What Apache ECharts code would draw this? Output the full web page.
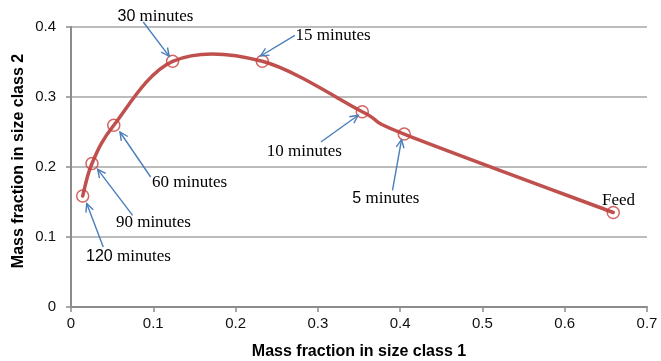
<!DOCTYPE html>
<html>
<head>
<meta charset="utf-8">
<script src="https://cdn.jsdelivr.net/npm/echarts@6/dist/echarts.min.js"></script>
<style>
  html, body { margin: 0; padding: 0; background: #fff; }
  #chart { width: 661px; height: 361px; }
</style>
</head>
<body>
<div id="chart"></div>
<script>
// measured points, feed first then by grinding time
const times = ['Feed', '5', '10', '15', '30', '60', '90', '120']
const class1 = [0.659, 0.405, 0.354, 0.2325, 0.1235, 0.052, 0.0255, 0.0142]
const class2 = [0.135, 0.247, 0.279, 0.351, 0.351, 0.2596, 0.205, 0.1586]

const xTickLabels = ['0', '0.1', '0.2', '0.3', '0.4', '0.5', '0.6', '0.7']
const yTickLabels = ['0', '0.1', '0.2', '0.3', '0.4']

// annotation text anchors (centre), same order as times
const noteX = [0.6654, 0.3826, 0.2836, 0.3186, 0.1026, 0.1442, 0.1002, 0.0698]
const noteY = [0.1524, 0.1549, 0.2224, 0.3881, 0.4153, 0.1777, 0.1200, 0.0714]
const sansNumber = [false, true, false, false, true, false, false, true]

// arrows: tail -> tip (no arrow for Feed)
const arrowFromX = [0.3907, 0.3037, 0.2721, 0.0878, 0.0968, 0.0749, 0.0392]
const arrowFromY = [0.1667, 0.2357, 0.3881, 0.4071, 0.1857, 0.1310, 0.0857]
const arrowToX = [0.4017, 0.3490, 0.2304, 0.1194, 0.0595, 0.0324, 0.0191]
const arrowToY = [0.2391, 0.2739, 0.3586, 0.3581, 0.2500, 0.1967, 0.1477]

const red = '#C0504D'
const blue = '#4A7EBB'

let chart = echarts.init(document.getElementById('chart'), null, { renderer: 'canvas' })

let pointData = class1.map((x, i) => [x, class2[i]])
let noteData = noteX.map((x, i) => [x, noteY[i], i])
let arrowData = arrowFromX.map((x, i) => [x, arrowFromY[i], arrowToX[i], arrowToY[i]])

// smoothed line like the spreadsheet one (catmull-rom through the points)
function renderCurve(params, api) {
  if (params.dataIndex !== 0) return null
  const pts = class1.map((x, i) => api.coord([x, class2[i]]))
  const n = pts.length
  let d = 'M' + pts[0][0] + ' ' + pts[0][1]
  for (let i = 0; i < n - 1; i++) {
    const p0 = pts[Math.max(i - 1, 0)]
    const p1 = pts[i]
    const p2 = pts[i + 1]
    const p3 = pts[Math.min(i + 2, n - 1)]
    const c1 = [p1[0] + (p2[0] - p0[0]) / 6, p1[1] + (p2[1] - p0[1]) / 6]
    const c2 = [p2[0] - (p3[0] - p1[0]) / 6, p2[1] - (p3[1] - p1[1]) / 6]
    d += ' C' + c1[0] + ' ' + c1[1] + ' ' + c2[0] + ' ' + c2[1] + ' ' + p2[0] + ' ' + p2[1]
  }
  return {
    type: 'path',
    shape: { pathData: d },
    style: { stroke: red, lineWidth: 3.5, fill: null, lineCap: 'round', lineJoin: 'round' }
  }
}

function renderArrow(params, api) {
  const p1 = api.coord([api.value(0), api.value(1)])
  const p2 = api.coord([api.value(2), api.value(3)])
  const ang = Math.atan2(p2[1] - p1[1], p2[0] - p1[0])
  const len = 9
  const spread = 0.45
  const h1 = [p2[0] - len * Math.cos(ang - spread), p2[1] - len * Math.sin(ang - spread)]
  const h2 = [p2[0] - len * Math.cos(ang + spread), p2[1] - len * Math.sin(ang + spread)]
  const style = { stroke: blue, lineWidth: 1.4, fill: null }
  return {
    type: 'group',
    children: [
      { type: 'line', shape: { x1: p1[0], y1: p1[1], x2: p2[0], y2: p2[1] }, style: style },
      { type: 'polyline', shape: { points: [h1, p2, h2] }, style: style }
    ]
  }
}

function renderNote(params, api) {
  const p = api.coord([api.value(0), api.value(1)])
  const i = api.value(2)
  const num = times[i]
  let text
  if (num === 'Feed') text = '{u|Feed}'
  else text = (sansNumber[i] ? '{s|' + num + '}' : '{u|' + num + '}') + '{u| minutes}'
  return {
    type: 'text',
    x: p[0],
    y: p[1],
    style: {
      text: text,
      align: 'center',
      verticalAlign: 'middle',
      rich: {
        s: { fontFamily: 'Liberation Sans, Arial, sans-serif', fontSize: 16, fill: '#000' },
        u: { fontFamily: 'Liberation Serif, Times New Roman, serif', fontSize: 17, fill: '#000' }
      }
    }
  }
}

chart.setOption({
  animation: false,
  grid: { left: 71, right: 14, top: 27, bottom: 54 },
  xAxis: {
    type: 'value',
    min: 0,
    max: 0.7,
    interval: 0.1,
    axisLine: { show: true, lineStyle: { color: '#8C8C8C', width: 2 } },
    axisTick: { show: true, length: 5, lineStyle: { color: '#8C8C8C', width: 1.5 } },
    axisLabel: {
      margin: 9,
      color: '#111',
      fontFamily: 'Liberation Sans, Arial, sans-serif',
      fontSize: 15,
      formatter: (v, i) => xTickLabels[i]
    },
    splitLine: { show: false }
  },
  yAxis: {
    type: 'value',
    min: 0,
    max: 0.4,
    interval: 0.1,
    axisLine: { show: true, lineStyle: { color: '#8C8C8C', width: 2 } },
    axisTick: { show: true, length: 5, lineStyle: { color: '#8C8C8C', width: 1.5 } },
    axisLabel: {
      margin: 15,
      color: '#111',
      fontFamily: 'Liberation Sans, Arial, sans-serif',
      fontSize: 15,
      formatter: (v, i) => yTickLabels[i]
    },
    splitLine: { show: true, lineStyle: { color: '#A6A6A6', width: 1.5 } }
  },
  graphic: [
    {
      type: 'text',
      x: 359,
      y: 352,
      style: {
        text: 'Mass fraction in size class 1',
        font: 'bold 16px "Liberation Sans", Arial, sans-serif',
        fill: '#000',
        align: 'center',
        verticalAlign: 'middle'
      }
    },
    {
      type: 'text',
      x: 19,
      y: 161,
      rotation: Math.PI / 2,
      style: {
        text: 'Mass fraction in size class 2',
        font: 'bold 16px "Liberation Sans", Arial, sans-serif',
        fill: '#000',
        align: 'center',
        verticalAlign: 'middle'
      }
    }
  ],
  series: [
    {
      type: 'custom',
      data: pointData,
      renderItem: renderCurve,
      clip: false,
      silent: true,
      z: 2
    },
    {
      type: 'scatter',
      data: pointData,
      symbol: 'circle',
      symbolSize: 12,
      itemStyle: { color: 'rgba(255,255,255,0)', borderColor: '#C8403C', borderWidth: 1.5 },
      z: 3
    },
    {
      type: 'custom',
      data: arrowData,
      renderItem: renderArrow,
      clip: false,
      silent: true,
      z: 4
    },
    {
      type: 'custom',
      data: noteData,
      renderItem: renderNote,
      clip: false,
      silent: true,
      z: 5
    }
  ]
})
</script>
</body>
</html>
